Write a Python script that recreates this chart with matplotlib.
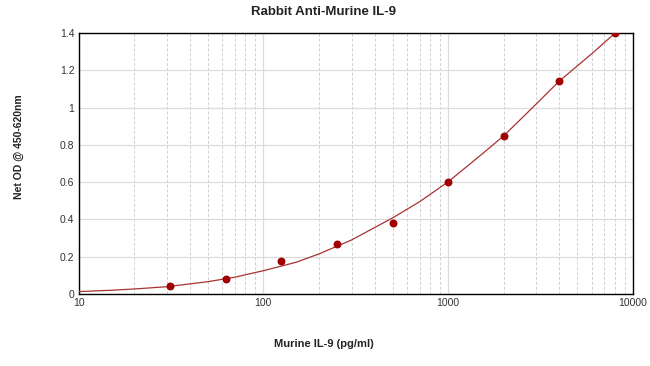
import numpy as np
import matplotlib
matplotlib.use("Agg")
import matplotlib.pyplot as plt
from matplotlib.ticker import FixedLocator, LogLocator, NullFormatter

plt.rcParams['font.family'] = ['Liberation Sans', 'DejaVu Sans']

# standards (pg/ml) and measured net OD
conc = [31.25, 62.5, 125, 250, 500, 1000, 2000, 4000, 8000]
od = [0.043, 0.079, 0.175, 0.27, 0.379, 0.60, 0.848, 1.145, 1.40]

# fitted curve
curve_x = [10, 15, 20, 30, 50, 70, 100, 150, 200, 300, 500, 700,
           1000, 1500, 2000, 3000, 4000, 6000, 8000]
curve_y = [0.013, 0.020, 0.027, 0.039, 0.066, 0.090, 0.125, 0.170, 0.215,
           0.290, 0.408, 0.495, 0.602, 0.745, 0.849, 1.02, 1.143, 1.29, 1.40]

yticks = [0, 0.2, 0.4, 0.6, 0.8, 1.0, 1.2, 1.4]
ylabels = ['0', '0.2', '0.4', '0.6', '0.8', '1', '1.2', '1.4']
xticks = [10, 100, 1000, 10000]
xlabels = ['10', '100', '1000', '10000']

fig = plt.figure(figsize=(6.5, 3.66), dpi=100)
ax = fig.add_axes([0.1208, 0.1967, 0.8531, 0.7131])

ax.set_xscale('log')
ax.set_xlim(10, 10000)
ax.set_ylim(0, 1.4)

ax.yaxis.set_major_locator(FixedLocator(yticks))
ax.set_yticklabels(ylabels)
ax.xaxis.set_major_locator(FixedLocator(xticks))
ax.set_xticklabels(xlabels)
ax.xaxis.set_minor_locator(LogLocator(base=10, subs=np.arange(2, 10)))
ax.xaxis.set_minor_formatter(NullFormatter())

ax.grid(True, which='major', color='#dcdcdc', linewidth=0.9, linestyle='-')
ax.grid(True, which='minor', axis='x', color='#cfcfcf', linewidth=0.7, linestyle=(0, (3, 2)))
ax.set_axisbelow(True)

ax.tick_params(which='both', length=0, labelsize=7.5, labelcolor='#333333', pad=3)

ax.plot(curve_x, curve_y, color='#a83232', linewidth=0.9, zorder=3)
ax.scatter(conc, od, s=22, color='#a00000', zorder=4)

for s in ax.spines.values():
    s.set_color('black')
    s.set_linewidth(1.0)

fig.text(0.497, 0.967, 'Rabbit Anti-Murine IL-9', ha='center', va='center',
         fontsize=9.5, fontweight='bold', color='#222222')
fig.text(0.498, 0.06, 'Murine IL-9 (pg/ml)', ha='center', va='center',
         fontsize=8, fontweight='bold', color='#222222')
fig.text(0.029, 0.598, 'Net OD @ 450-620nm', ha='center', va='center',
         rotation=90, fontsize=7.5, fontweight='bold', color='#222222')

fig.savefig('out.png', dpi=100)
